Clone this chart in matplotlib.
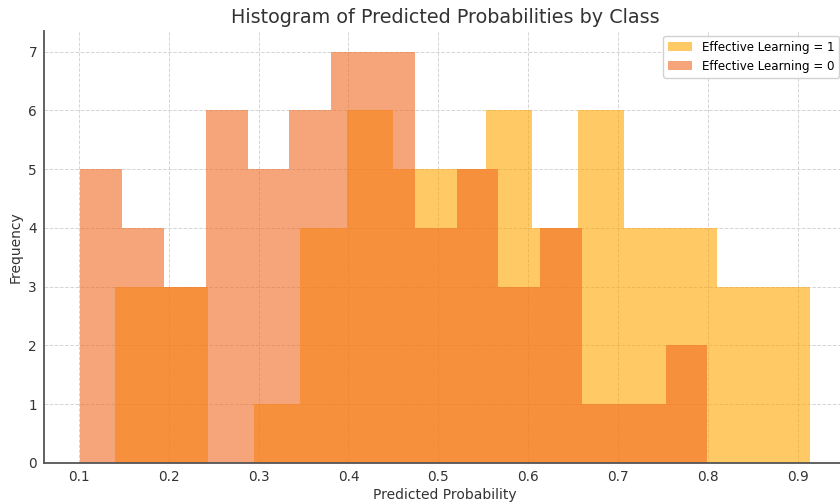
import numpy as np
import matplotlib
matplotlib.use("Agg")
import matplotlib.pyplot as plt

# conteos (15 bins por clase)
rango_1 = (0.1404, 0.9134)
conteos_1 = [3, 3, 0, 1, 4, 6, 5, 5, 6, 4, 6, 4, 4, 3, 3]
rango_0 = (0.1016, 0.7997)
conteos_0 = [5, 4, 3, 6, 5, 6, 7, 7, 4, 5, 3, 4, 1, 1, 2]

etiquetas = ["Effective Learning = 1", "Effective Learning = 0"]
colores = ["#FFA500", "#F06A22"]


def bins_de(rango, conteos):
    bordes = np.linspace(rango[0], rango[1], len(conteos) + 1)
    centros = (bordes[:-1] + bordes[1:]) / 2
    return bordes, centros


fig = plt.figure(figsize=(8.4, 5.04), dpi=100)
ax = fig.add_axes([44 / 840, 41 / 504, 802 / 840, 432 / 504])

for (rango, conteos), lab, col in zip([(rango_1, conteos_1), (rango_0, conteos_0)], etiquetas, colores):
    bordes, centros = bins_de(rango, conteos)
    ax.hist(centros, bins=bordes, weights=conteos, color=col, alpha=0.6, label=lab)

ax.set_title("Histogram of Predicted Probabilities by Class", fontsize=13.8, color="#333333")
ax.set_xlabel("Predicted Probability", fontsize=10, color="#333333", labelpad=3)
ax.set_ylabel("Frequency", fontsize=10, color="#333333")
ax.set_xticks(np.arange(0.1, 0.91, 0.1))
ax.set_yticks(range(0, 8))
ax.tick_params(labelsize=9.8, colors="#333333", length=0, pad=5)
ax.grid(True, linestyle="--", color="#d5d5d5", linewidth=0.7)
ax.set_axisbelow(True)
for s in ["top", "right"]:
    ax.spines[s].set_visible(False)
for s in ["left", "bottom"]:
    ax.spines[s].set_color("#555555")
    ax.spines[s].set_linewidth(1.3)

ax.legend(loc="upper right", fontsize=8.6, framealpha=0.9, edgecolor="#cccccc",
          bbox_to_anchor=(839 / 840, 468 / 504), bbox_transform=fig.transFigure,
          borderaxespad=0)

fig.savefig("out.png", dpi=100)
